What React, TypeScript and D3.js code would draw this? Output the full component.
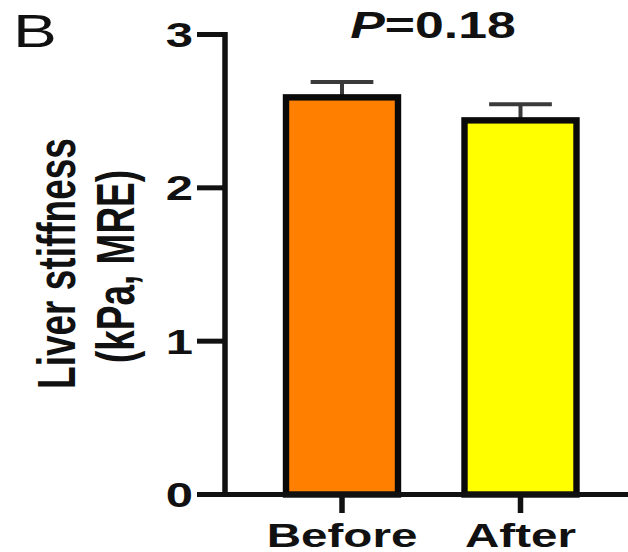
import React from "react";
import * as d3 from "d3";

const categories = ["Before", "After"];
const means = [2.59, 2.44];
const sems = [0.1, 0.105];
const barColors = ["#FF8000", "#FFFF00"];
const yTicks = [0, 1, 2, 3];
const panelLabel = "B";
const pLabel = "=0.18";
const yLabelLines = ["Liver stiffness", "(kPa, MRE)"];

const W = 628;
const H = 552;
const SX = 1.4;
const FONT = "'Liberation Sans', Arial, Helvetica, sans-serif";

export default function App() {
  const y = d3.scaleLinear().domain([0, 3]).range([494.5, 34.5]);
  const x = d3
    .scaleBand<string>()
    .domain(categories)
    .range([286, 576.5])
    .paddingInner(0.3725)
    .paddingOuter(0);
  const bw = x.bandwidth();
  const axisX = 225;
  const capW = bw * 0.56;

  return (
    <svg
      width={W}
      height={H}
      style={{ position: "absolute", left: 0, top: 0, background: "#fff" }}
      fontFamily={FONT}
    >
      <rect x={0} y={0} width={W} height={H} fill="#fff" />
      {/* panel label */}
      <text
        transform={`translate(13,47) scale(${SX},1)`}
        fontSize={47}
        fill="#111"
      >
        {panelLabel}
      </text>
      {/* P value */}
      <text
        transform={`translate(433,38) scale(${SX},1)`}
        fontSize={37}
        fontWeight="bold"
        textAnchor="middle"
        fill="#111"
      >
        <tspan fontStyle="italic">P</tspan>
        {pLabel}
      </text>
      {/* y axis label */}
      {yLabelLines.map((t, i) => (
        <text
          key={t}
          transform={`translate(${i === 0 ? 75 : 133.7},${i === 0 ? 263.5 : 266.5}) scale(1.45,1) rotate(-90)`}
          fontSize={37}
          fontWeight="bold"
          textAnchor="middle"
          fill="#111"
        >
          {t}
        </text>
      ))}
      {/* y ticks */}
      {yTicks.map((t) => (
        <g key={t}>
          <line
            x1={197}
            x2={axisX}
            y1={y(t)}
            y2={y(t)}
            stroke="#111"
            strokeWidth={5}
          />
          <text
            transform={`translate(193,${y(t) + 12.5}) scale(${SX},1)`}
            fontSize={35}
            fontWeight="bold"
            textAnchor="end"
            fill="#111"
          >
            {t}
          </text>
        </g>
      ))}
      {/* bars */}
      {categories.map((c, i) => {
        const x0 = x(c)!;
        const cx = x0 + bw / 2;
        return (
          <g key={c}>
            <line
              x1={cx}
              x2={cx}
              y1={y(means[i])}
              y2={y(means[i] + sems[i])}
              stroke="#3a3a3a"
              strokeWidth={4}
            />
            <line
              x1={cx - capW / 2}
              x2={cx + capW / 2}
              y1={y(means[i] + sems[i])}
              y2={y(means[i] + sems[i])}
              stroke="#3a3a3a"
              strokeWidth={4}
            />
            <rect
              x={x0}
              y={y(means[i])}
              width={bw}
              height={y(0) - y(means[i])}
              fill={barColors[i]}
              stroke="#0a0a0a"
              strokeWidth={6.4}
            />
            <line
              x1={cx}
              x2={cx}
              y1={y(0)}
              y2={513}
              stroke="#111"
              strokeWidth={5.5}
            />
            <text
              transform={`translate(${cx},547) scale(${SX},1)`}
              fontSize={34}
              fontWeight="bold"
              textAnchor="middle"
              fill="#111"
            >
              {c}
            </text>
          </g>
        );
      })}
      {/* axes */}
      <line
        x1={axisX}
        x2={W}
        y1={y(0)}
        y2={y(0)}
        stroke="#111"
        strokeWidth={5}
      />
      <line
        x1={axisX}
        x2={axisX}
        y1={y(3) - 2.5}
        y2={y(0) + 2.5}
        stroke="#111"
        strokeWidth={5.5}
      />
    </svg>
  );
}
